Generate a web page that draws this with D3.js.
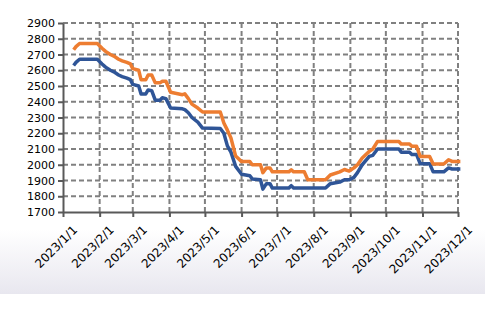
<!DOCTYPE html>
<html>
<head>
<meta charset="utf-8">
<script src="https://cdn.jsdelivr.net/npm/d3@7"></script>
<style>
  body { margin: 0; background: #fff; }
  svg { display: block; }
</style>
</head>
<body>
<svg id="chart"></svg>
<script>
// change points
const dates = [
  "2023-01-10","2023-01-12","2023-01-15","2023-01-30","2023-02-03","2023-02-06","2023-02-10",
  "2023-02-13","2023-02-17","2023-02-20","2023-02-24","2023-02-27","2023-03-01","2023-03-06",
  "2023-03-08","2023-03-12","2023-03-14","2023-03-17","2023-03-20","2023-03-24","2023-03-26",
  "2023-03-29","2023-04-02","2023-04-12","2023-04-14","2023-04-17","2023-04-20","2023-04-25",
  "2023-04-29","2023-05-14","2023-05-17","2023-05-20","2023-05-23","2023-05-27","2023-06-01",
  "2023-06-08","2023-06-10","2023-06-17","2023-06-19","2023-06-22","2023-06-25","2023-06-27",
  "2023-07-11","2023-07-13","2023-07-15","2023-07-24","2023-07-27","2023-08-11","2023-08-15",
  "2023-08-23","2023-08-27","2023-08-31","2023-09-04","2023-09-07","2023-09-11","2023-09-17",
  "2023-09-20","2023-09-24","2023-10-12","2023-10-14","2023-10-21","2023-10-23","2023-10-27",
  "2023-10-30","2023-11-07","2023-11-10","2023-11-19","2023-11-23","2023-11-26","2023-12-03"
];
const blueValues = [
  2630,2650,2670,2670,2640,2620,2600,
  2590,2570,2560,2550,2540,2510,2500,
  2450,2450,2475,2470,2410,2410,2425,
  2420,2360,2355,2350,2330,2300,2270,
  2233,2230,2200,2120,2080,1990,1940,
  1930,1910,1905,1845,1880,1880,1852,
  1852,1867,1852,1852,1852,1852,1880,
  1890,1905,1905,1920,1950,2000,2053,
  2060,2100,2100,2080,2080,2065,2065,
  2007,2007,1955,1955,1980,1973,1973
];
const orangeValues = [
  2730,2750,2770,2770,2740,2720,2700,
  2690,2670,2660,2650,2640,2610,2600,
  2540,2540,2570,2570,2520,2520,2530,
  2530,2460,2445,2450,2420,2385,2360,
  2335,2335,2265,2220,2170,2055,2020,
  2020,2000,2000,1950,1980,1980,1955,
  1955,1968,1955,1955,1905,1905,1935,
  1955,1970,1960,1980,2000,2043,2085,
  2100,2148,2148,2132,2132,2117,2117,
  2053,2053,2005,2005,2032,2021,2021
];
const yTicks = [1700,1800,1900,2000,2100,2200,2300,2400,2500,2600,2700,2800,2900];
const monthTicks = ["2023-01-01","2023-02-01","2023-03-01","2023-04-01","2023-05-01","2023-06-01",
  "2023-07-01","2023-08-01","2023-09-01","2023-10-01","2023-11-01","2023-12-01"];

const width = 485, height = 309;
const margin = { top: 23, right: 27, bottom: 97, left: 63 };
const parse = d3.timeParse("%Y-%m-%d");

const svg = d3.select("#chart").attr("width", width).attr("height", height);

// soft gradient background at the bottom
const grad = svg.append("defs").append("linearGradient")
  .attr("id", "bg").attr("x1", 0).attr("y1", 0).attr("x2", 0).attr("y2", 1);
grad.append("stop").attr("offset", "0").attr("stop-color", "#ffffff");
grad.append("stop").attr("offset", "0.78").attr("stop-color", "#ffffff");
grad.append("stop").attr("offset", "1").attr("stop-color", "#e8e7ef");
svg.append("rect").attr("width", width).attr("height", 294).attr("fill", "url(#bg)");

const x = d3.scaleTime()
  .domain([parse("2023-01-01"), parse("2023-12-01")])
  .range([margin.left, width - margin.right]);
const y = d3.scaleLinear()
  .domain([1700, 2900])
  .range([height - margin.bottom, margin.top]);

const g = svg.append("g");

// dashed grid
g.selectAll(".hgrid").data(yTicks.slice(1)).enter().append("line")
  .attr("x1", margin.left).attr("x2", width - margin.right)
  .attr("y1", d => y(d)).attr("y2", d => y(d))
  .attr("stroke", "#808080").attr("stroke-width", 2).attr("stroke-dasharray", "5,3");
g.selectAll(".vgrid").data(monthTicks.slice(1)).enter().append("line")
  .attr("x1", d => x(parse(d))).attr("x2", d => x(parse(d)))
  .attr("y1", margin.top).attr("y2", height - margin.bottom)
  .attr("stroke", "#808080").attr("stroke-width", 2).attr("stroke-dasharray", "5,3");

// axes
const yAxis = svg.append("g")
  .attr("transform", `translate(${margin.left},0)`)
  .call(d3.axisLeft(y).tickValues(yTicks).tickSize(5).tickPadding(3).tickSizeOuter(0)
    .tickFormat(d3.format("d")));
const xAxis = svg.append("g")
  .attr("transform", `translate(0,${height - margin.bottom})`)
  .call(d3.axisBottom(x).tickValues(monthTicks.map(parse)).tickSize(5).tickSizeOuter(0)
    .tickFormat(d3.timeFormat("%Y/%-m/%-d")));

[yAxis, xAxis].forEach(a => {
  a.select(".domain").attr("stroke", "#595959").attr("stroke-width", 2);
  a.selectAll(".tick line").attr("stroke", "#595959").attr("stroke-width", 2);
  a.selectAll("text").attr("fill", "#000").style("font-family", "DejaVu Sans").style("font-size", "11px");
});
xAxis.selectAll("text")
  .style("font-size", "12px")
  .attr("text-anchor", "end")
  .attr("dy", "0.35em")
  .attr("transform", "translate(6,10) rotate(-45)");

// lines
const points = (vals) => dates.map((d, i) => ({ date: parse(d), value: vals[i] }));
const line = d3.line().x(d => x(d.date)).y(d => y(d.value));

g.append("path").datum(points(blueValues))
  .attr("fill", "none").attr("stroke", "#2f5597").attr("stroke-width", 3.5)
  .attr("stroke-linejoin", "round").attr("d", line);
g.append("path").datum(points(orangeValues))
  .attr("fill", "none").attr("stroke", "#ed7d31").attr("stroke-width", 3.5)
  .attr("stroke-linejoin", "round").attr("d", line);
</script>
</body>
</html>
